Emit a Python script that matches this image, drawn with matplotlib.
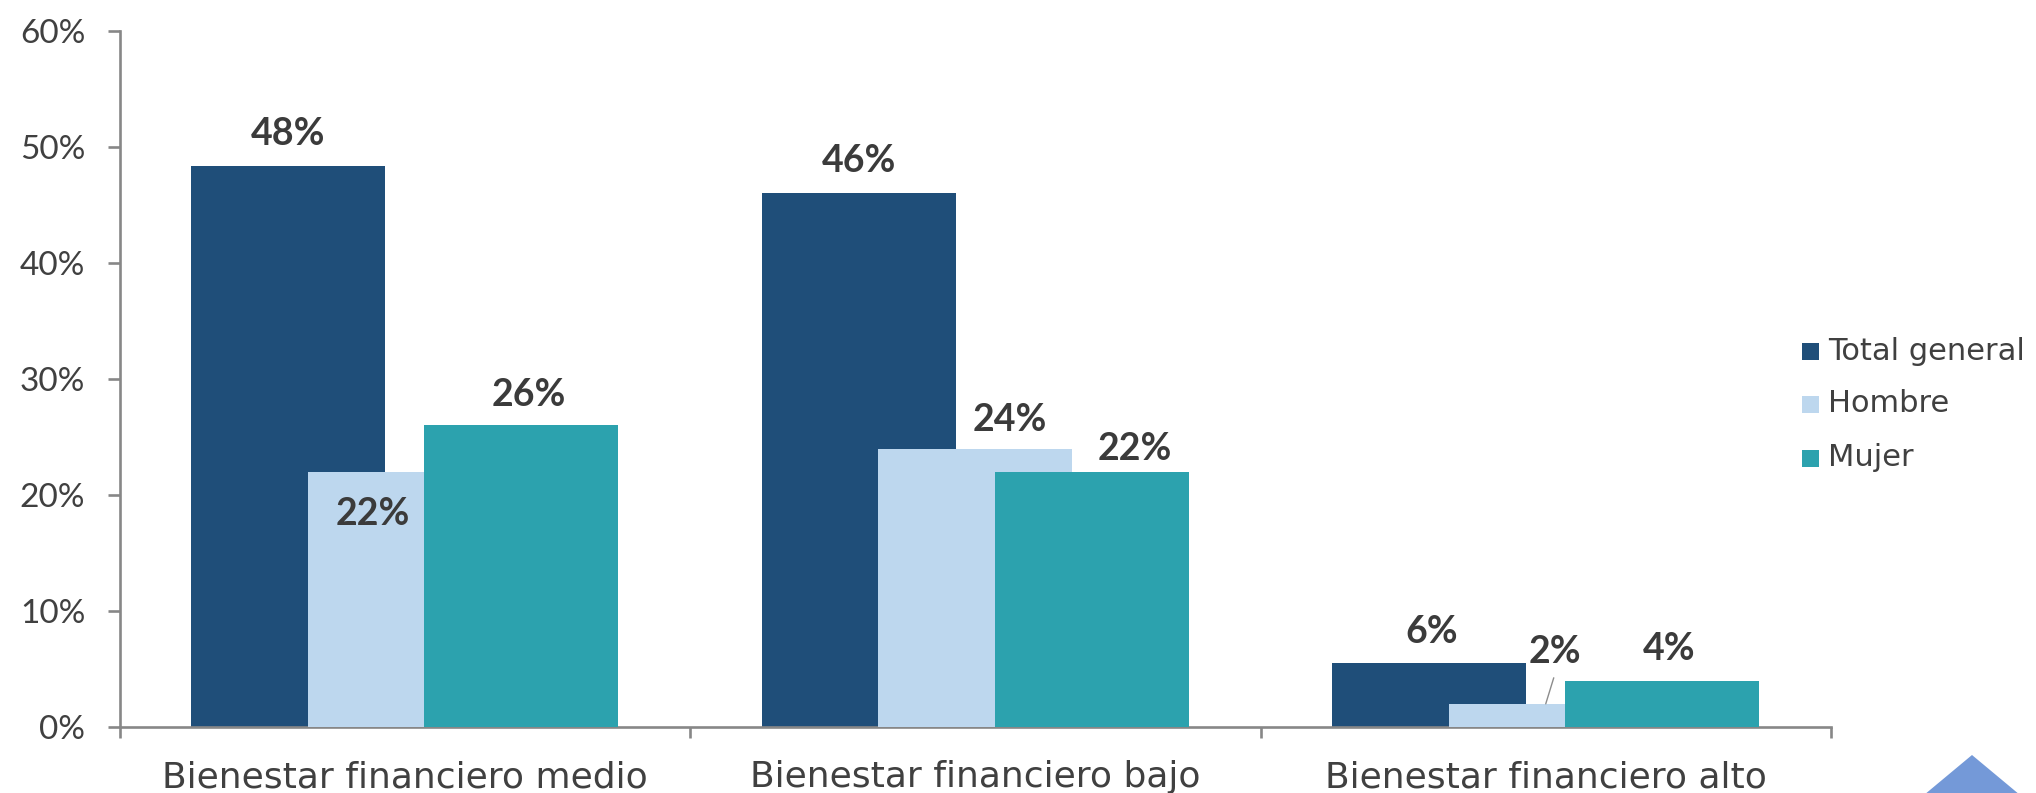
import matplotlib
matplotlib.use("Agg")
import matplotlib.pyplot as plt
from matplotlib.patches import Rectangle, Polygon
from matplotlib.transforms import IdentityTransform
from matplotlib.ticker import FixedLocator, PercentFormatter

categories = ["Bienestar financiero medio", "Bienestar financiero bajo", "Bienestar financiero alto"]
series_names = ["Total general", "Hombre", "Mujer"]
total_general = [48.4, 46.0, 5.5]
hombre = [22.0, 24.0, 2.0]
mujer = [26.0, 22.0, 4.0]
y_ticks = [0, 10, 20, 30, 40, 50, 60]

colors = ["#1F4E79", "#BDD7EE", "#2CA2AE"]
text_color = "#404040"
label_color = "#3B3B3B"
axis_color = "#878787"

W, H, DPI = 2036, 793, 100
fig = plt.figure(figsize=(W / DPI, H / DPI), dpi=DPI)
ax = fig.add_axes([119.5 / W, (H - 727) / H, (1831 - 119.5) / W, (727 - 31) / H])

offsets = [-0.204, 0.0, 0.204]
width = 0.34
xs = list(range(len(categories)))
series = [total_general, hombre, mujer]

for i, (vals, col) in enumerate(zip(series, colors)):
    ax.bar([x + offsets[i] for x in xs], vals, width=width, color=col,
           zorder=2 + i, linewidth=0, label=series_names[i])

ax.set_xlim(-0.5, 2.5)
ax.set_ylim(0, 60)

for s in ["top", "right"]:
    ax.spines[s].set_visible(False)
for s in ["left", "bottom"]:
    ax.spines[s].set_color(axis_color)
    ax.spines[s].set_linewidth(1.9)

ax.yaxis.set_major_locator(FixedLocator(y_ticks))
ax.yaxis.set_major_formatter(PercentFormatter(decimals=0))
ax.tick_params(axis="y", direction="out", length=8.6, width=1.9, color=axis_color,
               labelsize=24, labelcolor=text_color, pad=16)

ax.set_xticks(xs)
ax.set_xticklabels(categories)
ax.set_xticks([-0.5, 0.5, 1.5, 2.5], minor=True)
ax.tick_params(axis="x", which="major", length=0, labelsize=26, labelcolor=text_color, pad=24)
ax.tick_params(axis="x", which="minor", direction="out", length=8, width=1.9, color=axis_color)

for lab in ax.get_yticklabels():
    lab.set_fontfamily("Lato")
for lab in ax.get_xticklabels():
    lab.set_fontfamily("DejaVu Sans")

label_offsets = [
    [(0, 32), (0, 32), (2, 31)],
    [(-32, -42), (35, 29), (9, 52)],
    [(8, 30), (43, 23), (7, 32)],
]
for i, vals in enumerate(series):
    for j, v in enumerate(vals):
        dx, dy = label_offsets[i][j]
        ax.annotate(f"{v:.0f}%", xy=(xs[j] + offsets[i], v), xytext=(dx, dy),
                    textcoords="offset pixels", ha="center", va="center",
                    fontsize=27, fontweight="bold", fontfamily="Lato",
                    color=label_color, zorder=10)

ax.annotate("", xy=(xs[2] + offsets[1], hombre[2]), xytext=(8, 26),
            textcoords="offset pixels",
            arrowprops=dict(arrowstyle="-", color="#8C8C8C", lw=1.0, shrinkA=0, shrinkB=0),
            zorder=9)

rows_y = [351, 404, 458]
for name, col, yc in zip(series_names, colors, rows_y):
    fig.patches.append(Rectangle((1802, H - yc - 8.5), 17, 17, transform=IdentityTransform(),
                                 facecolor=col, edgecolor="none", figure=fig))
    fig.text(1828 / W, (H - yc) / H, name, ha="left", va="center", fontsize=22,
             fontfamily="DejaVu Sans", color=text_color)

fig.patches.append(Polygon([(1972, H - 755), (1924, -2), (2020, -2)], closed=True,
                           transform=IdentityTransform(), facecolor="#7499D8",
                           edgecolor="none", figure=fig))

fig.savefig("out.png", dpi=DPI)
